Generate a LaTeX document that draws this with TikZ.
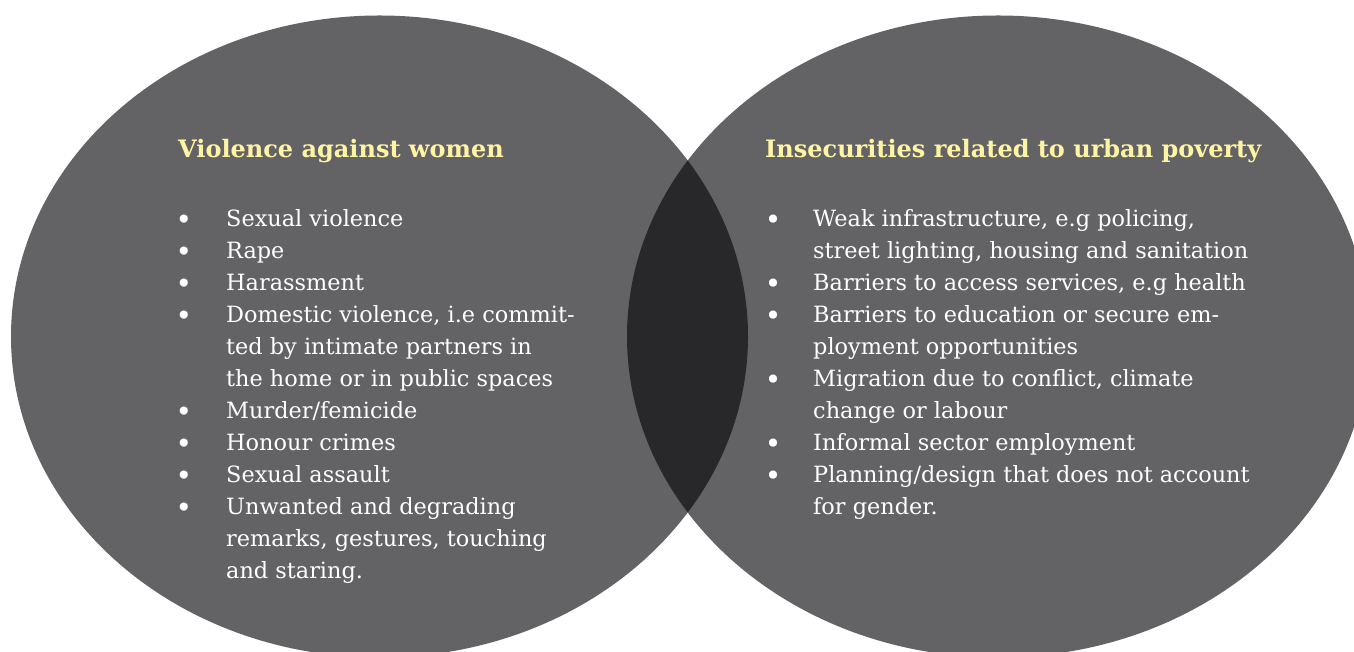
\documentclass[tikz,border=0pt]{standalone}
\usepackage{fontspec}
\setmainfont{DejaVu Serif}
\usepackage{xcolor}
\definecolor{circgray}{HTML}{636365}
\definecolor{overlapgray}{HTML}{28282A}
\definecolor{titleyellow}{HTML}{FFF4A3}
\tikzset{
	ttl/.style={anchor=base west, inner sep=0pt, text=titleyellow, font=\bfseries\fontsize{24}{32}\selectfont},
	itemline/.style={anchor=base west, inner sep=0pt, text=white, font=\fontsize{22.4}{32}\selectfont},
	bul/.style={anchor=center, inner sep=0pt, text=white, font=\fontsize{28}{32}\selectfont}
}
\begin{document}
\begin{tikzpicture}[x=1pt,y=1pt]
			\useasboundingbox (0,0) rectangle (1354,652);
			\coordinate (cl) at (379.5,315.5);
			\coordinate (cr) at (998,315.5);
			% Vẽ hai hình elip
			\begin{scope}
				\clip (0,0) rectangle (1354,652);
				\fill [circgray] (cl) ellipse [x radius=368.5, y radius=321];
				\fill [circgray] (cr) ellipse [x radius=371, y radius=321];
				\clip (cl) ellipse [x radius=368.5, y radius=321];
				\fill [overlapgray] (cr) ellipse [x radius=371, y radius=321];
			\end{scope}
			% Tiêu đề
			\node [ttl] (ttlL) at (178,494) {Violence against women};
			\node [ttl] (ttlR) at (765,494) {Insecurities related to urban poverty};
			% Cột trái
			\foreach \t [count=\i from 0] in {Sexual violence,Rape,Harassment,{Domestic violence, i.e commit-},ted by intimate partners in,the home or in public spaces,Murder/femicide,Honour crimes,Sexual assault,Unwanted and degrading,{remarks, gestures, touching},and staring.}
			\node [itemline] (vaw\i) at (226,425-32*\i) {\t};
			\foreach \i in {0,1,2,3,6,7,8,9}
			\node [bul] (vb\i) at (184,430-32*\i) {•};
			% Cột phải
			\foreach \t [count=\i from 0] in {{Weak infrastructure, e.g policing,},{street lighting, housing and sanitation},{Barriers to access services, e.g health},Barriers to education or secure em-,ployment opportunities,{Migration due to conflict, climate},change or labour,Informal sector employment,Planning/design that does not account,for gender.}
			\node [itemline] (iup\i) at (813,425-32*\i) {\t};
			\foreach \i in {0,2,3,5,7,8}
			\node [bul] (ib\i) at (773,430-32*\i) {•};
		\end{tikzpicture}
\end{document}
